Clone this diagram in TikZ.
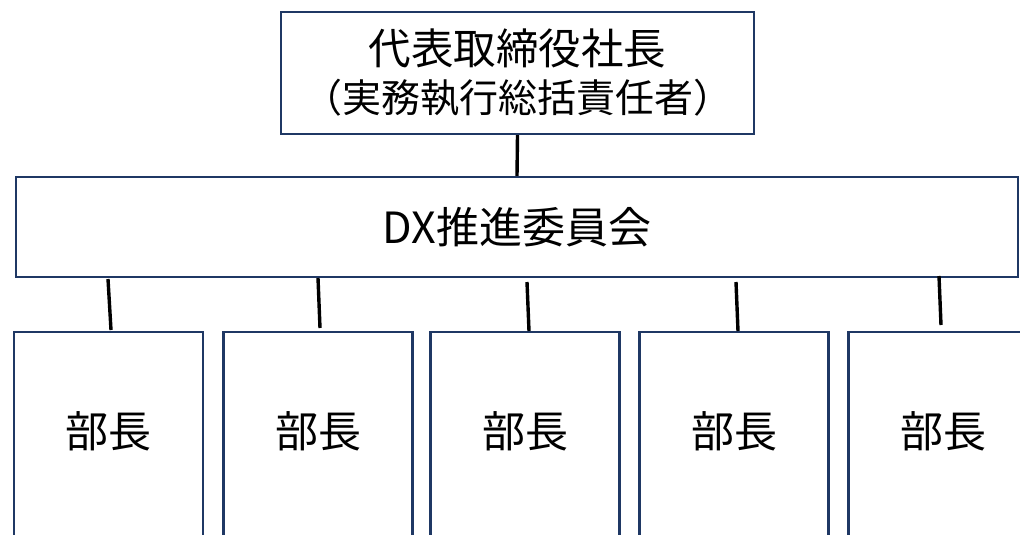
\documentclass[tikz,border=0pt]{standalone}
\usepackage{fontspec}
\setmainfont{Noto Sans CJK JP}
\begin{document}
\begin{tikzpicture}[x=1pt,y=-1pt,
  orgbox/.style={draw=boxblue, line width=2.2pt, fill=white, inner sep=0pt, align=center, text=black},
  conn/.style={draw=black, line width=3.4pt}]
\definecolor{boxblue}{HTML}{1F3864}
\useasboundingbox (0,0) rectangle (1020,535);
\node[orgbox, minimum width=473pt, minimum height=122pt, font=\fontsize{42}{48}\selectfont] (ceo) at (517.5,73)
  {{\fontsize{42.5}{48}\selectfont 代表取締役社長}\\{\fontsize{39}{48}\selectfont （実務執行総括責任者）}};
\node[orgbox, minimum width=1002pt, minimum height=100pt, font=\fontsize{43}{48}\selectfont] (dx) at (517,227) {DX推進委員会};
\foreach \i/\cx in {1/108.5, 2/318, 3/525, 4/734, 5/943} {
  \node[orgbox, minimum width=189pt, minimum height=212pt, font=\fontsize{43}{48}\selectfont] (bu\i) at (\cx,438) {\raisebox{17pt}{部長}};
}
\draw[conn] (ceo.south) -- (dx.north);
\coordinate (a1) at (108,279); \coordinate (b1) at (111,330);
\coordinate (a2) at (318,278); \coordinate (b2) at (320,328);
\coordinate (a3) at (527,282); \coordinate (b3) at (529,331);
\coordinate (a4) at (736,282); \coordinate (b4) at (738,331);
\coordinate (a5) at (939,276); \coordinate (b5) at (941,325);
\foreach \i in {1,...,5} { \draw[conn] (a\i) -- (b\i); }
\end{tikzpicture}
\end{document}
